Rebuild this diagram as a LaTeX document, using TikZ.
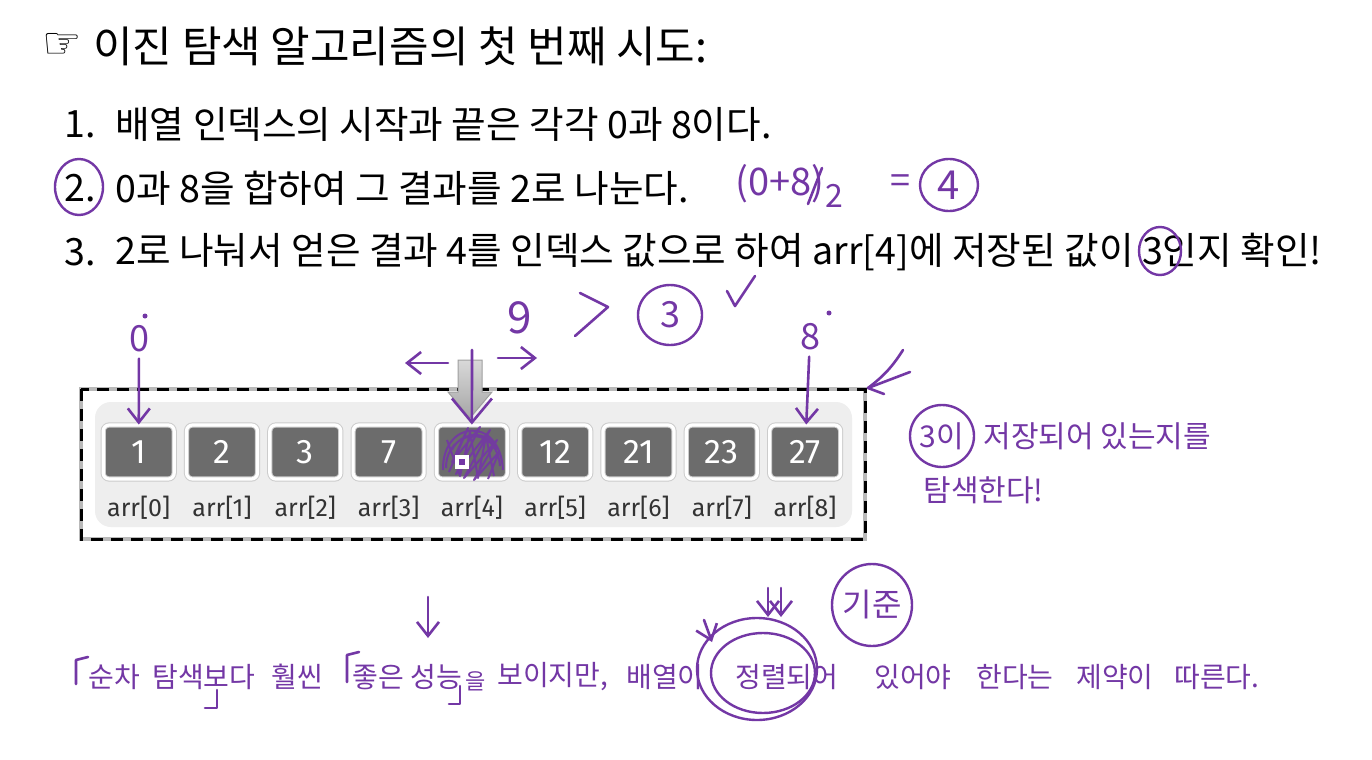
\documentclass[tikz,border=0pt]{standalone}
\usepackage{fontspec}
\setmainfont{Noto Sans CJK KR}
\newfontfamily\numfont{Fira Sans}
\newfontfamily\symfont{DejaVu Sans}
\usetikzlibrary{arrows.meta,shapes.geometric}
\definecolor{hw}{RGB}{115,55,165}
\definecolor{cellgray}{RGB}{108,108,108}
\definecolor{panel}{RGB}{238,238,238}
\begin{document}
\begin{tikzpicture}[x=0.5pt,y=-0.5pt,
  txt/.style={anchor=west,inner sep=0pt,font=\fontsize{18.8}{21}\selectfont},
  ttl/.style={anchor=west,inner sep=0pt,font=\fontsize{21.5}{24}\selectfont},
  cell/.style={fill=cellgray,draw=gray!40,double=white,double distance=1.6pt,line width=0.5pt,
    rounded corners=3pt,minimum width=35.5pt,minimum height=27pt,inner sep=0pt,
    text=white,font=\numfont\fontsize{17}{20}\selectfont},
  lbl/.style={inner sep=0pt,text=black!80,font=\numfont\fontsize{12.5}{14}\selectfont},
  hwt/.style={inner sep=0pt,text=hw,font=\fontsize{14}{16}\selectfont},
  hwd/.style={inner sep=0pt,text=hw,font=\fontsize{18}{20}\selectfont},
  hwl/.style={draw=hw,line width=1.3pt,line cap=round,line join=round},
  hwc/.style={draw=hw,line width=1.2pt},
  hwbarb/.style={-{Straight Barb[length=7pt,width=11pt]}},
]
\useasboundingbox[fill=white] (0,0) rectangle (1372,760);

% ---- printed text
\node[inner sep=0pt,font=\symfont\fontsize{22}{24}\selectfont] (hand) at (62,46) {☞};
\node[ttl] (title) at (93,46) {이진 탐색 알고리즘의 첫 번째 시도:};
\node[txt] (n1) at (64,124) {1.};
\node[txt] (t1) at (115,124) {배열 인덱스의 시작과 끝은 각각 0과 8이다.};
\node[txt] (n2) at (64,188) {2.};
\node[txt] (t2) at (115,188) {0과 8을 합하여 그 결과를 2로 나눈다.};
\node[txt] (n3) at (64,252) {3.};
\node[txt] (t3) at (115,252) {2로 나눠서 얻은 결과 4를 인덱스 값으로 하여 arr[4]에 저장된 값이 3인지 확인!};

% ---- array figure
\draw[gray!55,line width=2pt] (81,389) rectangle (865,539);
\draw[black,line width=1.5pt,dash pattern=on 6pt off 4pt] (81,389) rectangle (865,539);
\fill[panel,rounded corners=8pt] (95,402) rectangle (852,527);
\foreach \v [count=\i from 0] in {1,2,3,7,{},12,21,23,27} {
  \node[cell] (c\i) at ({138.7+83.3*\i},452) {\v};
  \node[lbl] (l\i) at ({138.7+83.3*\i},508) {arr[\i]};
}
\shade[top color=gray!30,bottom color=gray!70,draw=gray!75,line width=0.5pt]
  (458,360) -- (482,360) -- (482,392) -- (492,392) -- (470,418) -- (448,392) -- (458,392) -- cycle;

% ---- scribble on arr[4]
\draw[hw,line width=1pt,opacity=0.9,line join=round]
  (446,468) .. controls (446,430) and (496,422) .. (500,466)
  (443,470) .. controls (442,420) and (500,415) .. (503,470)
  (449,472) -- (468,428) -- (452,462) -- (480,427) -- (456,474) -- (490,430)
  -- (464,478) -- (497,440) -- (474,480) -- (499,452) -- (488,479)
  (452,450) .. controls (460,432) and (488,428) .. (496,450)
  (447,440) -- (460,476) -- (470,432) -- (478,478) -- (486,436) -- (494,476);
\fill[white] (455,455) rectangle (469,469);
\fill[hw] (459,459) rectangle (465,465);

% ---- handwritten annotations around the array
\node[hwd] (h0) at (139,339) {0};
\fill[hw] (145,316) circle (2.5);
\draw[hwl,hwbarb,shorten <=3pt] (h0) -- (c0);
\node[hwd] (h8) at (810,337) {8};
\fill[hw] (829,313) circle (2.5);
\draw[hwl,hwbarb,shorten <=3pt] (h8) -- (c8);
\coordinate (p4) at (472,350);
\draw[hwl,-{Straight Barb[length=12pt,width=20pt]}] (p4) -- (c4.north);
\node[inner sep=0pt,text=hw,font=\fontsize{22}{24}\selectfont] (h9) at (520,318) {9};
\coordinate (la1) at (448,363);
\coordinate (la2) at (405,363);
\draw[hwl,hwbarb] (la1) -- (la2);
\coordinate (ra1) at (498,358);
\coordinate (ra2) at (537,358);
\draw[hwl,hwbarb] (ra1) -- (ra2);
\draw[hwl] (580,293) -- (608,307) -- (575,336);
\node[hwd] (h3) at (670,315) {3};
\draw[hwc] (h3) ellipse (32 and 30);
\draw[hwl] (727,291) -- (735,306) -- (755,276);
\coordinate (da1) at (903,350);
\coordinate (da2) at (868,388);
\coordinate (da3) at (910,372);
\draw[hwl] (da1) to[bend left=10] (da2);
\draw[hwl] (da3) -- (da2) -- (884,394);

% ---- handwritten annotations near the text
\draw[hwc] (79,187) ellipse (24 and 28);
\draw[hwc] (1160,251) ellipse (21 and 24);
\node[inner sep=0pt,text=hw,font=\fontsize{19}{21}\selectfont,anchor=west] (calc) at (735,184) {(0+8)};
\draw[hwl] (808,204) -- (822,168);
\node[inner sep=0pt,text=hw,font=\fontsize{16}{18}\selectfont] (calc2) at (834,196) {2};
\node[inner sep=0pt,text=hw,font=\fontsize{18}{20}\selectfont] (eq) at (900,184) {=};
\node[inner sep=0pt,text=hw,font=\fontsize{20}{22}\selectfont] (h4) at (949,185) {4};
\draw[hwc] (h4) ellipse (29 and 26);

% ---- handwritten note on the right
\node[inner sep=0pt,text=hw,font=\fontsize{15}{17}\selectfont] (h3i) at (942,436) {3이};
\draw[hwc] (h3i) ellipse (32 and 31);
\node[hwt,anchor=west,font=\fontsize{15}{17}\selectfont] (r1) at (983,436) {저장되어 있는지를};
\node[hwt,anchor=west,font=\fontsize{15}{17}\selectfont] (r2) at (923,490) {탐색한다!};

% ---- handwritten sentence at the bottom
\node[hwt,anchor=west] (b1) at (88,677) {순차};
\node[hwt,anchor=west] (b2) at (152,677) {탐색보다};
\node[hwt,anchor=west] (b3) at (271,677) {훨씬};
\node[hwt,anchor=west] (b4) at (352,677) {좋은};
\node[hwt,anchor=west] (b5) at (410,677) {성능};
\node[hwt,anchor=west,font=\fontsize{11}{12}\selectfont] (b6) at (465,681) {을};
\node[hwt,anchor=west] (b7) at (497,677) {보이지만,};
\node[hwt,anchor=west] (b8) at (626,677) {배열이};
\node[hwt,anchor=west] (b9) at (735,677) {정렬되어};
\node[hwt,anchor=west] (b10) at (874,677) {있어야};
\node[hwt,anchor=west] (b11) at (976,677) {한다는};
\node[hwt,anchor=west] (b12) at (1076,677) {제약이};
\node[hwt,anchor=west] (b13) at (1174,677) {따른다.};
\draw[hwl] (76,684) -- (76,660) -- (88,657);
\draw[hwl] (205,708) -- (217,708) -- (217,690);
\draw[hwl] (347,682) -- (347,655) -- (359,652);
\draw[hwl] (449,704) -- (460,704) -- (460,686);
\coordinate (bd1) at (428,597);
\coordinate (bd2) at (428,638);
\draw[hwl,hwbarb] (bd1) -- (bd2);
\draw[hwc] (757,669) ellipse (60 and 51);
\draw[hwc] (763,673) ellipse (52 and 40);
\coordinate (dd1) at (768,588);
\coordinate (dd2) at (768,617);
\coordinate (dd3) at (781,588);
\coordinate (dd4) at (781,617);
\draw[hwl,hwbarb] (dd1) -- (dd2);
\draw[hwl,hwbarb] (dd3) -- (dd4);
\coordinate (ld1) at (704,620);
\coordinate (ld2) at (712,642);
\draw[hwl,hwbarb] (ld1) -- (ld2);
\node[hwt,font=\fontsize{16}{18}\selectfont] (gj) at (872,605) {기준};
\draw[hwc] (gj) ellipse (40 and 41);
\end{tikzpicture}
\end{document}
